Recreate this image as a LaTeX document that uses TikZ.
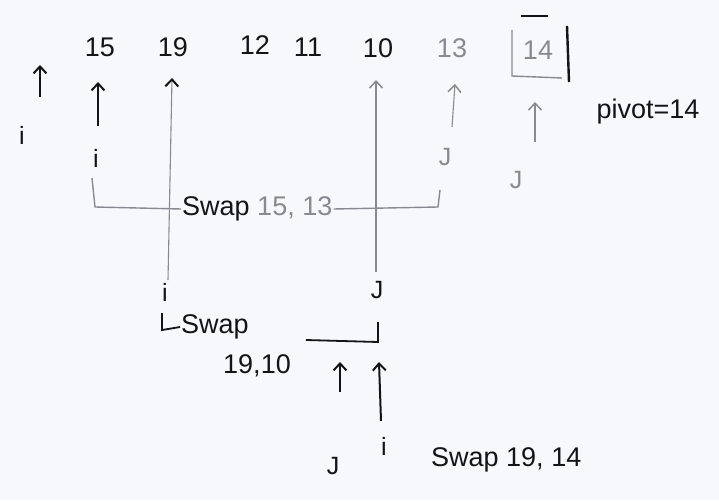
\documentclass[tikz,border=0pt]{standalone}
\usepackage{fontspec}
\setmainfont{Liberation Sans}
\usetikzlibrary{arrows.meta}
\definecolor{bg}{RGB}{246,248,252}
\definecolor{ink}{RGB}{20,20,22}
\definecolor{pencil}{RGB}{135,138,145}
\tikzset{
  num/.style={font=\fontsize{27}{27}\selectfont, text=ink, inner sep=1pt},
  gnum/.style={num, text=pencil},
  lab/.style={font=\fontsize{25}{25}\selectfont, text=ink, inner sep=1pt},
  note/.style={font=\fontsize{27}{27}\selectfont, text=ink, inner sep=1pt},
  inkarrow/.style={draw=ink, line width=2pt, -{Straight Barb[length=7pt,width=13pt]}},
  grayarrow/.style={draw=pencil, line width=1.1pt, -{Straight Barb[length=7pt,width=13pt,color=ink,line width=2pt]}},
  grayline/.style={draw=pencil, line width=1.4pt},
  inkline/.style={draw=ink, line width=1.8pt},
}
\begin{document}
\begin{tikzpicture}[x=1pt,y=-1pt]
\fill[bg] (0,0) rectangle (719,500);
\useasboundingbox (0,0) rectangle (719,500);
% array
\node[num] (n15) at (100,47) {15};
\node[num] (n19) at (173,47) {19};
\node[num] (n12) at (255,45) {12};
\node[num] (n11) at (308,47) {11};
\node[num] (n10) at (378,48) {10};
\node[gnum] (n13) at (452,48) {13};
\node[gnum] (n14) at (538,50) {14};
% box around pivot
\draw[grayline] (512,30) -- (512,76) -- (562,78);
\draw[inkline, line width=2.4pt] (567,26) -- (569,82);
\draw[inkline] (521,16) -- (548,16);
% labels
\node[lab] (i0) at (22,135) {i};
\node[lab] (i1) at (96,158) {i};
\node[lab] (i2) at (165,292) {i};
\node[lab] (j2) at (377,290) {J};
\node[gnum, font=\fontsize{25}{25}\selectfont] (j1) at (445,157) {J};
\node[gnum, font=\fontsize{25}{25}\selectfont] (j0) at (516,180) {J};
\node[lab] (j3) at (333,466) {J};
\node[lab] (i4) at (384,446) {i};
\node[note] (piv) at (648,112) {pivot=14};
% arrows
\coordinate (a0s) at (40,97);
\coordinate (a0e) at (40,65);
\draw[inkarrow] (a0s) -- (a0e);
\coordinate (a1s) at (98,126);
\coordinate (a1e) at (98,82);
\draw[inkarrow] (a1s) -- (a1e);
\coordinate (a2s) at (168,280);
\coordinate (a2e) at (172,78);
\draw[grayarrow] (a2s) -- (a2e);
\coordinate (a4s) at (376,272);
\coordinate (a4e) at (376,80);
\draw[grayarrow, -{Straight Barb[length=7pt,width=13pt,color=pencil,line width=1.5pt]}] (a4s) -- (a4e);
\coordinate (a5s) at (452,127);
\coordinate (a5e) at (455,84);
\draw[grayarrow, -{Straight Barb[length=7pt,width=13pt,color=pencil,line width=1.5pt]}] (a5s) -- (a5e);
\coordinate (a6s) at (535,142);
\coordinate (a6e) at (535,102);
\draw[grayarrow, -{Straight Barb[length=7pt,width=13pt,color=pencil,line width=1.5pt]}] (a6s) -- (a6e);
% first swap bracket
\node[note, anchor=west] (sw1) at (181,209) {Swap \textcolor{pencil}{15, 13}};
\draw[grayline] (92,178) -- (95,207) -- (sw1.west);
\draw[grayline] (sw1.east) -- (438,207) -- (440,190);
% second swap
\node[note, anchor=west] (sw2) at (180,327) {Swap};
\draw[inkline] (162,313) -- (162,330) -- (sw2.west);
\node[note] (sw2b) at (257,366) {19,10};
\coordinate (b2a) at (306,340);
\coordinate (b2b) at (378,342);
\coordinate (b2c) at (378,322);
\draw[inkline] (b2a) -- (b2b) -- (b2c);
% bottom arrows
\coordinate (a7s) at (340,392);
\coordinate (a7e) at (340,362);
\draw[inkarrow] (a7s) -- (a7e);
\coordinate (a8s) at (381,421);
\coordinate (a8e) at (379,362);
\draw[inkarrow] (a8s) -- (a8e);
\node[note, anchor=west] (sw3) at (430,460) {Swap 19, 14};
\end{tikzpicture}
\end{document}
